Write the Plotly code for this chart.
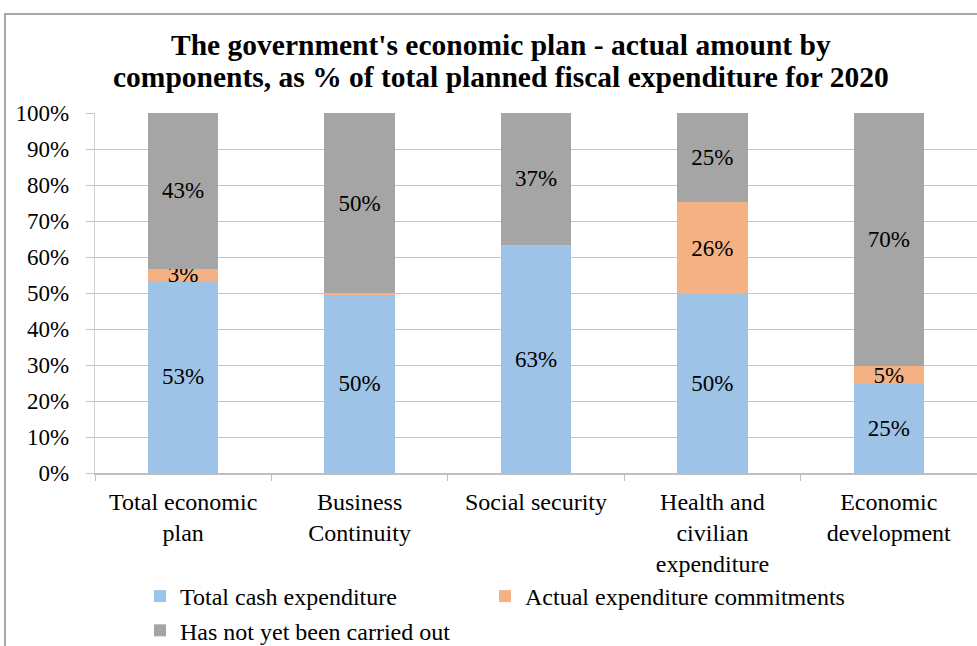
import plotly.graph_objects as go

categories = ["Total economic<br>plan", "Business<br>Continuity", "Social security",
              "Health and<br>civilian<br>expenditure", "Economic<br>development"]
cash = [53.4, 49.6, 63.1, 49.6, 24.6]
commitments = [3.3, 0.3, 0.3, 25.6, 5.1]
not_yet = [43.3, 50.1, 36.6, 24.8, 70.3]
series_names = ["Total cash expenditure", "Actual expenditure commitments", "Has not yet been carried out"]
colors = ["#9DC3E6", "#F4B183", "#A5A5A5"]
legend_slots = ["legend", "legend2", "legend"]
y_ticks = [0, 10, 20, 30, 40, 50, 60, 70, 80, 90, 100]
y_tick_labels = ["0%", "10%", "20%", "30%", "40%", "50%", "60%", "70%", "80%", "90%", "100%"]
title_lines = ["The government's economic plan - actual amount by",
               "components, as % of total planned fiscal expenditure for 2020"]

FONT = "Liberation Serif"

def labels(vals):
    return [f"{round(v)}%" if v >= 1 else "" for v in vals]

fig = go.Figure()
for name, vals, col, lg in zip(series_names, [cash, commitments, not_yet], colors, legend_slots):
    fig.add_trace(go.Bar(
        x=categories, y=vals, name=name, legend=lg,
        marker=dict(color=col, line=dict(width=0)),
        text=labels(vals), textposition="inside", insidetextanchor="middle",
        constraintext="none", textangle=0,
        textfont=dict(family=FONT, size=23, color="black"),
        hoverinfo="skip",
    ))

def px_x(p):
    return (p - 95) / 882

def px_y(p):
    return (473 - p) / 360

title_ann = [dict(
    text="<b>" + line + "</b>", xref="paper", yref="paper",
    x=px_x(501), xanchor="center", y=px_y(yc), yanchor="middle",
    showarrow=False, font=dict(family=FONT, size=29.5, color="black"),
) for line, yc in zip(title_lines, [45, 77])]

legend_common = dict(font=dict(family=FONT, size=24, color="black"),
                     itemclick=False, bgcolor="rgba(0,0,0,0)")

fig.update_layout(
    width=977, height=646, autosize=False,
    barmode="stack", bargap=0.6,
    margin=dict(l=95, r=0, t=113, b=173, autoexpand=False),
    paper_bgcolor="white", plot_bgcolor="white",
    font=dict(family=FONT, size=23, color="black"),
    annotations=title_ann,
    xaxis=dict(
        tickson="boundaries", ticks="outside", ticklen=6, tickcolor="#bfbfbf",
        showline=True, linecolor="#bfbfbf", linewidth=1.5,
        showgrid=False, ticklabelstandoff=6,
        tickfont=dict(family=FONT, size=24, color="black"),
    ),
    yaxis=dict(
        range=[0, 100], tickvals=y_ticks, ticktext=y_tick_labels,
        showgrid=True, gridcolor="#c4c4c4", gridwidth=1.3,
        showline=True, linecolor="#d0d0d0", linewidth=1.3,
        ticks="outside", ticklen=8, tickcolor="#c4c4c4",
        zeroline=False, ticklabelstandoff=12,
        tickfont=dict(family=FONT, size=23, color="black"),
    ),
    legend=dict(orientation="v", traceorder="normal",
                x=px_x(140), xanchor="left", y=px_y(574), yanchor="top",
                **legend_common),
    legend2=dict(orientation="v", x=px_x(485), xanchor="left",
                 y=px_y(574), yanchor="top", **legend_common),
    shapes=[dict(type="rect", xref="paper", yref="paper",
                 x0=px_x(5), x1=px_x(1005), y0=px_y(700), y1=px_y(14),
                 line=dict(color="#8c8c8c", width=1.5), fillcolor="rgba(0,0,0,0)", layer="below")],
)

fig.write_html("out.html")
